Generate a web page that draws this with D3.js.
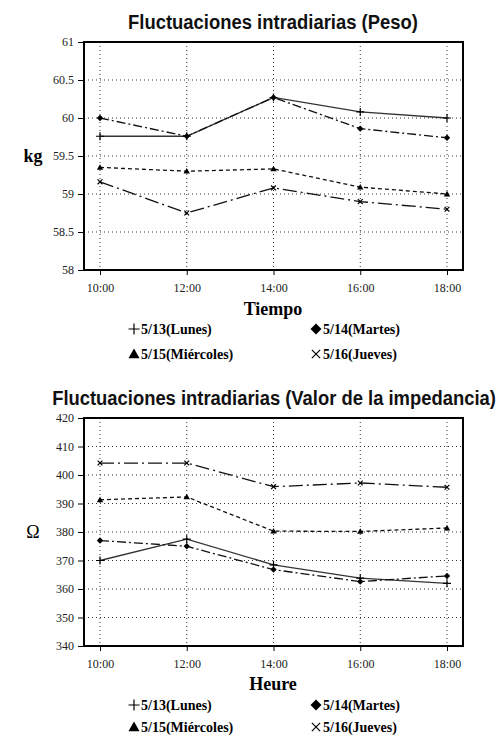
<!DOCTYPE html>
<html><head><meta charset="utf-8">
<script src="https://cdn.jsdelivr.net/npm/d3@7"></script>
<style>body{margin:0;background:#fff}svg{display:block}</style>
</head><body>
<script>
const times = ["10:00","12:00","14:00","16:00","18:00"];
const seriesNames = ["5/13(Lunes)","5/14(Martes)","5/15(Miércoles)","5/16(Jueves)"];
const pesoLunes     = [59.76, 59.76, 60.27, 60.08, 60.00];
const pesoMartes    = [60.00, 59.76, 60.27, 59.86, 59.74];
const pesoMiercoles = [59.35, 59.30, 59.33, 59.09, 59.00];
const pesoJueves    = [59.16, 58.75, 59.08, 58.90, 58.80];
const impLunes     = [370, 377.5, 368.5, 363.8, 362];
const impMartes    = [377, 375, 366.8, 362.6, 364.6];
const impMiercoles = [391.3, 392.3, 380.3, 380.2, 381.4];
const impJueves    = [404.2, 404.2, 395.9, 397.2, 395.7];
const pesoTicks = [58, 58.5, 59, 59.5, 60, 60.5, 61];
const impTicks = [340, 350, 360, 370, 380, 390, 400, 410, 420];

const W = 502, H = 735;
const svg = d3.select("body").append("svg").attr("width", W).attr("height", H);
const serif = "'Liberation Serif','DejaVu Serif',serif";
const cond = "'Liberation Sans Narrow','Liberation Sans',Arial,sans-serif";

const dashes = [null, "9,3,2,3", "4,3", "14,4,2,4"];
const symbols = ["plus","diamond","triangle","cross"];

function marker(g, type, x, y, s) {
  if (type === "plus") {
    g.append("path").attr("d", `M${x-s},${y}H${x+s}M${x},${y-s}V${y+s}`).attr("stroke","#000").attr("stroke-width",1.2).attr("fill","none");
  } else if (type === "cross") {
    const r = s*0.75;
    g.append("path").attr("d", `M${x-r},${y-r}L${x+r},${y+r}M${x-r},${y+r}L${x+r},${y-r}`).attr("stroke","#000").attr("stroke-width",1.2).attr("fill","none");
  } else if (type === "diamond") {
    g.append("path").attr("d", `M${x},${y-s}L${x+s},${y}L${x},${y+s}L${x-s},${y}Z`).attr("fill","#000");
  } else {
    g.append("path").attr("d", `M${x},${y-s}L${x+s},${y+s*0.75}L${x-s},${y+s*0.75}Z`).attr("fill","#000");
  }
}

function chart(cfg) {
  const left = 84, right = 463;
  const x = d3.scalePoint().domain(times).range([100, 447]);
  const y = d3.scaleLinear().domain(cfg.domain).range([cfg.bottom, cfg.top]);
  const g = svg.append("g");

  // title (condensed by horizontal scaling to target width)
  const tg = g.append("g");
  const t = tg.append("text").attr("x", 0).attr("y", 0).attr("text-anchor","middle")
    .attr("font-family", cond).attr("font-weight","bold").attr("font-size", 21)
    .attr("fill","#111").text(cfg.title);
  const natural = t.node().getComputedTextLength();
  tg.attr("transform", `translate(${cfg.titleX},${cfg.titleY}) scale(${cfg.titleLen/natural},1)`);

  // grid
  g.append("g").selectAll("line").data(cfg.ticks.slice(1, -1)).join("line")
    .attr("x1", left).attr("x2", right).attr("y1", d => y(d)).attr("y2", d => y(d))
    .attr("stroke","#333").attr("stroke-width",1).attr("stroke-dasharray","1,3");
  g.append("g").selectAll("line").data(times).join("line")
    .attr("x1", d => x(d)).attr("x2", d => x(d)).attr("y1", cfg.top).attr("y2", cfg.bottom)
    .attr("stroke","#333").attr("stroke-width",1).attr("stroke-dasharray","1,3");

  // axes
  const ya = g.append("g").attr("transform", `translate(${left},0)`)
    .call(d3.axisLeft(y).tickValues(cfg.ticks).tickSize(6).tickPadding(4).tickFormat(d3.format("")));
  ya.select(".domain").remove();
  ya.selectAll("text").attr("font-family", serif).attr("font-size", 12).attr("fill","#222");
  const xa = g.append("g").attr("transform", `translate(0,${cfg.bottom})`)
    .call(d3.axisBottom(x).tickSize(5).tickPadding(8));
  xa.select(".domain").remove();
  xa.selectAll("text").attr("font-family", serif).attr("font-size", 12).attr("fill","#222");

  // frame
  g.append("rect").attr("x", left).attr("y", cfg.top).attr("width", right-left).attr("height", cfg.bottom-cfg.top)
    .attr("fill","none").attr("stroke","#000").attr("stroke-width",2);

  // series
  const line = d3.line().x((d,i) => x(times[i])).y(d => y(d));
  cfg.series.forEach((vals, k) => {
    g.append("path").attr("d", line(vals)).attr("fill","none").attr("stroke", k===0 ? "#333" : "#111")
      .attr("stroke-width",1.3).attr("stroke-dasharray", dashes[k]);
  });
  cfg.series.forEach((vals, k) => {
    vals.forEach((v,i) => marker(g, symbols[k], x(times[i]), y(v), k===0?4:3.2));
  });

  // axis titles
  g.append("text").attr("x", cfg.yLabelX).attr("y", (cfg.top+cfg.bottom)/2 + 6).attr("text-anchor","middle")
    .attr("font-family", serif).attr("font-weight", cfg.yBold?"bold":"normal").attr("font-size", 18).text(cfg.yLabel);
  g.append("text").attr("x", 273).attr("y", cfg.xLabelY).attr("text-anchor","middle")
    .attr("font-family", serif).attr("font-weight","bold").attr("font-size", 18).text(cfg.xLabel);

  // legend
  const pos = [[128, cfg.legY1],[310, cfg.legY1],[128, cfg.legY2],[310, cfg.legY2]];
  seriesNames.forEach((n, k) => {
    const [lx, ly] = pos[k];
    marker(g, symbols[k], lx+6, ly-5, 5.5);
    g.append("text").attr("x", lx+13).attr("y", ly).attr("font-family", serif).attr("font-weight","bold")
      .attr("font-size", 14).text(n);
  });
}

chart({title:"Fluctuaciones intradiarias (Peso)", titleX:273, titleY:29, titleLen:290,
  domain:[58,61], ticks:pesoTicks, top:42, bottom:270,
  series:[pesoLunes,pesoMartes,pesoMiercoles,pesoJueves],
  yLabel:"kg", yBold:true, yLabelX:33, xLabel:"Tiempo", xLabelY:315, legY1:334, legY2:359});

chart({title:"Fluctuaciones intradiarias (Valor de la impedancia)", titleX:274, titleY:405, titleLen:444,
  domain:[340,420], ticks:impTicks, top:418, bottom:646,
  series:[impLunes,impMartes,impMiercoles,impJueves],
  yLabel:"Ω", yBold:false, yLabelX:33, xLabel:"Heure", xLabelY:690, legY1:710, legY2:732});
</script>
</body></html>
